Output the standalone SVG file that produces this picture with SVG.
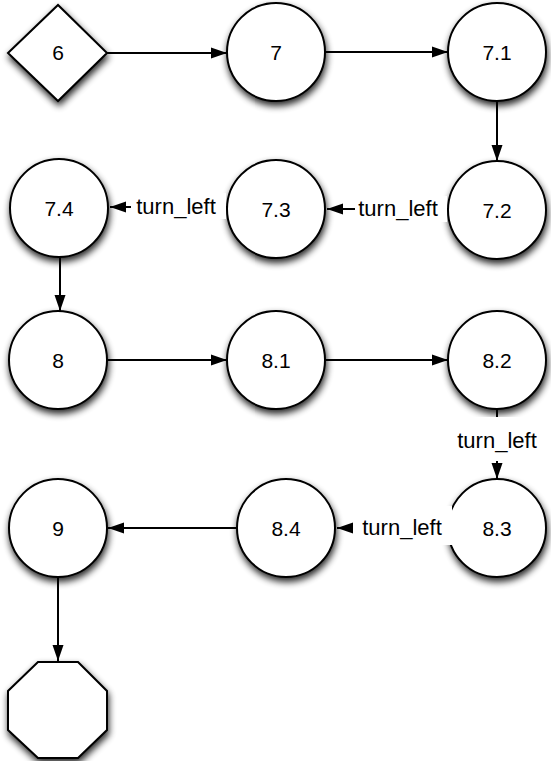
<svg xmlns="http://www.w3.org/2000/svg" width="551" height="761" viewBox="0 0 551 761">
  <defs>
    <filter id="shadow" x="-30%" y="-30%" width="160%" height="170%">
      <feGaussianBlur in="SourceAlpha" stdDeviation="3.5"/>
      <feOffset dx="1" dy="4" result="b"/>
      <feComponentTransfer><feFuncA type="linear" slope="0.85"/></feComponentTransfer>
      <feMerge><feMergeNode/><feMergeNode in="SourceGraphic"/></feMerge>
    </filter>
    <marker id="arrow" viewBox="0 0 16 12" refX="16" refY="6" markerWidth="16" markerHeight="12" markerUnits="userSpaceOnUse" orient="auto">
      <path d="M0,0.5 L16,6 L0,11.5 Z" fill="#000"/>
    </marker>
  </defs>
  <style>
    .node { fill: #fff; stroke: #000; stroke-width: 2; filter: url(#shadow); }
    .lbl { font-family: "Liberation Sans", Arial, sans-serif; font-size: 21px; fill: #000; text-anchor: middle; }
    .elbl { font-size: 22px; }
    .edge { fill: none; stroke: #000; stroke-width: 2; marker-end: url(#arrow); }
    .bg { fill: #fff; stroke: none; }
  </style>
  <rect width="551" height="761" fill="#fff"/>

  <g id="n6"><polygon class="node" points="8,53 58,5 107,53 58,101"/><text class="lbl" x="58" y="60">6</text></g>
  <g id="n7"><circle class="node" cx="276" cy="52" r="49"/><text class="lbl" x="276" y="60">7</text></g>
  <g id="n7_1"><circle class="node" cx="497" cy="52" r="49"/><text class="lbl" x="497" y="60">7.1</text></g>
  <g id="n7_2"><circle class="node" cx="497" cy="210" r="49"/><text class="lbl" x="497" y="218">7.2</text></g>
  <g id="n7_3"><circle class="node" cx="276" cy="209" r="49"/><text class="lbl" x="276" y="217">7.3</text></g>
  <g id="n7_4"><circle class="node" cx="59" cy="208" r="49"/><text class="lbl" x="59" y="216">7.4</text></g>
  <g id="n8"><circle class="node" cx="58" cy="360" r="49"/><text class="lbl" x="58" y="368">8</text></g>
  <g id="n8_1"><circle class="node" cx="276" cy="360" r="49"/><text class="lbl" x="276" y="368">8.1</text></g>
  <g id="n8_2"><circle class="node" cx="497" cy="360" r="49"/><text class="lbl" x="497" y="368">8.2</text></g>
  <g id="n8_3"><circle class="node" cx="497" cy="528" r="49"/><text class="lbl" x="497" y="536">8.3</text></g>
  <g id="n8_4"><circle class="node" cx="286" cy="528" r="49"/><text class="lbl" x="286" y="536">8.4</text></g>
  <g id="n9"><circle class="node" cx="58" cy="528" r="49"/><text class="lbl" x="58" y="536">9</text></g>
  <g id="end"><polygon class="node" points="38,662 78,662 107,691 107,730 78,758 38,758 8,730 8,691"/></g>

  <g id="connectors">
    <line class="edge" x1="107" y1="53" x2="227" y2="53"/>
    <line class="edge" x1="325" y1="52" x2="448" y2="52"/>
    <line class="edge" x1="497" y1="101" x2="497" y2="161"/>

    <line class="edge" x1="448" y1="209" x2="327" y2="209"/>
    <rect class="bg" x="355" y="196" width="92" height="26"/>
    <text class="lbl elbl" x="398" y="216">turn_left</text>

    <line class="edge" x1="227" y1="207" x2="110" y2="207"/>
    <rect class="bg" x="131" y="193" width="95" height="26"/>
    <text class="lbl elbl" x="176" y="214">turn_left</text>

    <line class="edge" x1="60" y1="257" x2="60" y2="311"/>
    <line class="edge" x1="107" y1="360" x2="227" y2="360"/>
    <line class="edge" x1="325" y1="360" x2="448" y2="360"/>

    <line class="edge" x1="497" y1="409" x2="497" y2="479"/>
    <rect class="bg" x="450" y="417" width="94" height="44"/>
    <text class="lbl elbl" x="497" y="448">turn_left</text>

    <line class="edge" x1="448" y1="528" x2="337" y2="528"/>
    <rect class="bg" x="353" y="506" width="99" height="39"/>
    <text class="lbl elbl" x="402" y="535">turn_left</text>

    <line class="edge" x1="237" y1="528" x2="108" y2="528"/>
    <line class="edge" x1="58" y1="577" x2="58" y2="661"/>
  </g>
</svg>
